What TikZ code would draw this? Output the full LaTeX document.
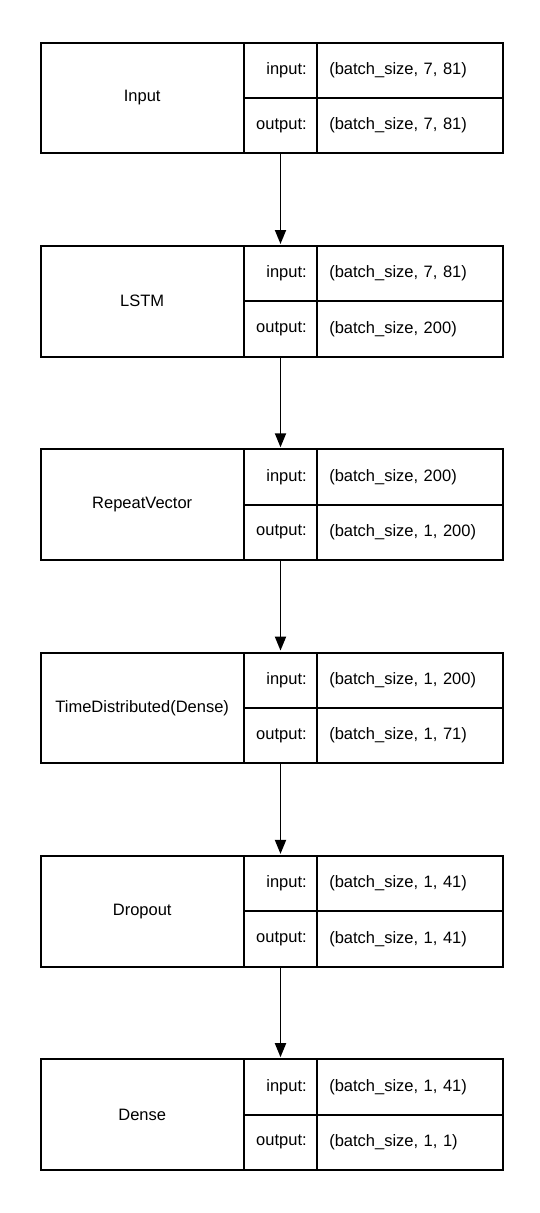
\documentclass[tikz,border=0pt]{standalone}
\usepackage{fontspec}
\setmainfont{Liberation Sans}
\usetikzlibrary{arrows.meta}

\begin{document}
\begin{tikzpicture}[x=1pt,y=-1pt,line width=2pt,
		font=\fontsize{16.5}{19}\selectfont,
		layer/.style={draw,rectangle,inner sep=0pt,minimum width=203pt,minimum height=110.6pt},
		lab/.style={draw,rectangle,inner xsep=10.6pt,inner ysep=0pt,text width=52.4pt,align=right,minimum height=55.3pt},
		val/.style={draw,rectangle,inner xsep=12pt,inner ysep=0pt,text width=161.4pt,align=left,minimum height=55.3pt},
		flow/.style={-{Triangle[length=14pt,width=11pt]},line width=1.8pt,shorten >=1pt}]
		\useasboundingbox (0,0) rectangle (540,1213);

		\node[layer] (n1) at (142.2, 98.0) {Input};
		\node[lab] (i1) at (280.5, 70.35) {input:};
		\node[val] (iv1) at (410, 70.35) {(batch\_size, 7, 81)};
		\node[lab] (o1) at (280.5, 125.65) {output:};
		\node[val] (ov1) at (410, 125.65) {(batch\_size, 7, 81)};

		\node[layer] (n2) at (142.2, 301.3) {LSTM};
		\node[lab] (i2) at (280.5, 273.65) {input:};
		\node[val] (iv2) at (410, 273.65) {(batch\_size, 7, 81)};
		\node[lab] (o2) at (280.5, 328.95) {output:};
		\node[val] (ov2) at (410, 328.95) {(batch\_size, 200)};

		\node[layer] (n3) at (142.2, 504.6) {RepeatVector};
		\node[lab] (i3) at (280.5, 476.95) {input:};
		\node[val] (iv3) at (410, 476.95) {(batch\_size, 200)};
		\node[lab] (o3) at (280.5, 532.25) {output:};
		\node[val] (ov3) at (410, 532.25) {(batch\_size, 1, 200)};

		\node[layer] (n4) at (142.2, 707.9) {TimeDistributed(Dense)};
		\node[lab] (i4) at (280.5, 680.25) {input:};
		\node[val] (iv4) at (410, 680.25) {(batch\_size, 1, 200)};
		\node[lab] (o4) at (280.5, 735.55) {output:};
		\node[val] (ov4) at (410, 735.55) {(batch\_size, 1, 71)};

		\node[layer] (n5) at (142.2, 911.2) {Dropout};
		\node[lab] (i5) at (280.5, 883.55) {input:};
		\node[val] (iv5) at (410, 883.55) {(batch\_size, 1, 41)};
		\node[lab] (o5) at (280.5, 938.85) {output:};
		\node[val] (ov5) at (410, 938.85) {(batch\_size, 1, 41)};

		\node[layer] (n6) at (142.2, 1114.5) {Dense};
		\node[lab] (i6) at (280.5, 1086.85) {input:};
		\node[val] (iv6) at (410, 1086.85) {(batch\_size, 1, 41)};
		\node[lab] (o6) at (280.5, 1142.15) {output:};
		\node[val] (ov6) at (410, 1142.15) {(batch\_size, 1, 1)};

		\draw[flow] (o1) edge (i2);
		\draw[flow] (o2) edge (i3);
		\draw[flow] (o3) edge (i4);
		\draw[flow] (o4) edge (i5);
		\draw[flow] (o5) edge (i6);
	\end{tikzpicture}
\end{document}
